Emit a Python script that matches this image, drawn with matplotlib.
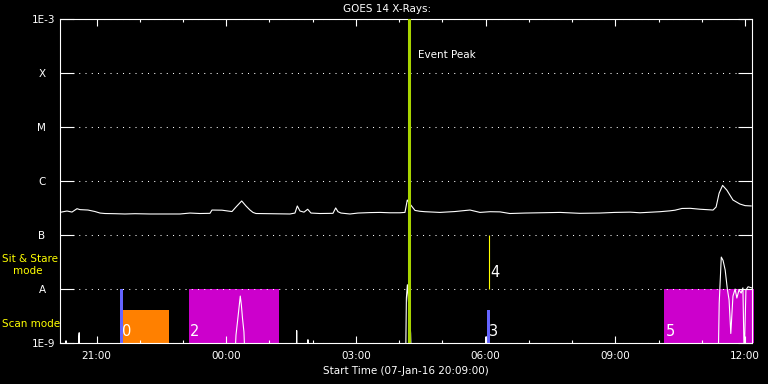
import matplotlib
matplotlib.use('Agg')
import matplotlib.pyplot as plt
import matplotlib.transforms as mtransforms

# start of the plot: 07-Jan-16 20:09:00, time axis in hours since start
start_hour = 20 + 9 / 60
span_hours = 16.0

# GOES long channel (1-8 A), W/m^2
long_t = [0.006, 0.168, 0.283, 0.399, 0.468, 0.653, 0.815, 0.931, 1.046, 1.278,
          1.509, 1.74, 2.087, 2.434, 2.781, 3.012, 3.243, 3.474, 3.521, 3.752,
          3.891, 3.983, 4.076, 4.208, 4.307, 4.4, 4.469, 4.538, 4.862, 5.325,
          5.44, 5.494, 5.556, 5.649, 5.734, 5.811, 6.019, 6.319, 6.382, 6.435,
          6.504, 6.712, 6.897, 7.175, 7.406, 7.637, 7.868, 7.984, 8.038, 8.1,
          8.216, 8.331, 8.447, 8.794, 9.141, 9.257, 9.488, 9.719, 9.95, 10.182,
          10.41, 10.76, 11.11, 11.57, 12.03, 12.49, 12.84, 13.19, 13.42, 13.88,
          14.11, 14.23, 14.39, 14.58, 14.81, 15.11, 15.18, 15.25, 15.33, 15.43,
          15.57, 15.73, 15.85, 15.99]
long_f = [2.63e-7, 2.78e-7, 2.66e-7, 3.07e-7, 2.95e-7, 2.9e-7, 2.72e-7, 2.55e-7, 2.5e-7, 2.48e-7,
          2.45e-7, 2.48e-7, 2.45e-7, 2.45e-7, 2.45e-7, 2.55e-7, 2.5e-7, 2.52e-7, 2.9e-7, 2.88e-7,
          2.78e-7, 2.72e-7, 3.3e-7, 4.27e-7, 3.45e-7, 2.9e-7, 2.62e-7, 2.5e-7, 2.48e-7, 2.45e-7,
          2.55e-7, 3.45e-7, 2.78e-7, 2.65e-7, 3.0e-7, 2.55e-7, 2.5e-7, 2.52e-7, 3.17e-7, 2.7e-7,
          2.55e-7, 2.45e-7, 2.55e-7, 2.6e-7, 2.62e-7, 2.58e-7, 2.58e-7, 2.62e-7, 4.45e-7, 3.75e-7,
          2.85e-7, 2.75e-7, 2.7e-7, 2.62e-7, 2.72e-7, 2.78e-7, 2.9e-7, 2.62e-7, 2.7e-7, 2.68e-7,
          2.5e-7, 2.55e-7, 2.58e-7, 2.62e-7, 2.52e-7, 2.55e-7, 2.62e-7, 2.65e-7, 2.58e-7, 2.7e-7,
          2.8e-7, 2.88e-7, 3.1e-7, 3.12e-7, 3.0e-7, 2.9e-7, 3.3e-7, 5.94e-7, 8.3e-7, 6.75e-7,
          4.45e-7, 3.75e-7, 3.5e-7, 3.45e-7]

# GOES short channel (0.5-4 A), mostly below the plot floor
short_t = [0.0, 0.14, 0.145, 0.15, 0.43, 0.44, 0.45, 0.46,
           4.05, 4.076, 4.12, 4.175, 4.2, 4.226, 4.26, 4.285,
           5.47, 5.48, 5.49, 5.73, 5.74, 5.75,
           8.0, 8.017, 8.04, 8.06, 8.09, 8.115, 8.13,
           9.85, 9.857, 9.865,
           15.23, 15.252, 15.3, 15.34, 15.39, 15.44, 15.48, 15.52, 15.57, 15.62,
           15.66, 15.71, 15.76, 15.8, 15.83, 15.87, 15.92, 16.0]
short_f = [5e-10, 5e-10, 1.1e-9, 5e-10, 5e-10, 1.3e-9, 1.55e-9, 5e-10,
           5e-10, 1.4e-9, 2.9e-9, 7.4e-9, 5.1e-9, 2.9e-9, 1.6e-9, 5e-10,
           5e-10, 1.7e-9, 5e-10, 5e-10, 1.15e-9, 5e-10,
           5e-10, 6.8e-9, 1.2e-8, 6.8e-9, 3e-9, 1.5e-9, 5e-10,
           5e-10, 1.3e-9, 5e-10,
           5e-10, 5.5e-9, 3.9e-8, 3.4e-8, 2.25e-8, 1.0e-8, 6.3e-9, 1.5e-9, 7.4e-9, 1.0e-8,
           6.8e-9, 9.6e-9, 8.4e-9, 1.05e-8, 5e-10, 9.6e-9, 1.1e-8, 1.05e-8]

# observation blocks: start, end (hours since start), top flux, colour
block_start = [1.40, 1.47, 2.99, 9.88, 13.97]
block_end = [1.47, 2.53, 5.06, 9.95, 16.05]
block_top = [1e-8, 4.1e-9, 1e-8, 4.1e-9, 1e-8]
block_color = ['#6464ff', '#ff8000', '#cc00cc', '#6464ff', '#cc00cc']

# raster numbers
num_labels = ['0', '2', '3', '4', '5']
num_t = [1.44, 3.01, 9.93, 9.95, 14.02]
num_f = [1.6e-9, 1.6e-9, 1.6e-9, 2.0e-8, 1.6e-9]

# sit & stare marker
stare_t = 9.935
stare_range = [1e-8, 1e-7]

event_peak_t = 8.08

flux_ticks = [1e-9, 1e-8, 1e-7, 1e-6, 1e-5, 1e-4, 1e-3]
flux_labels = ['1E-9', 'A', 'B', 'C', 'M', 'X', '1E-3']
clock_labels = ['21:00', '00:00', '03:00', '06:00', '09:00', '12:00']

fig = plt.figure(figsize=(7.68, 3.84), dpi=100, facecolor='black')
ax = fig.add_axes([59.75 / 768, 41 / 384, 691.8 / 768, 324 / 384], facecolor='black')

for t0, t1, top, c in zip(block_start, block_end, block_top, block_color):
    ax.fill_between([t0, t1], 1e-9, top, color=c, lw=0, zorder=1,
                    clip_on=(t1 <= span_hours))

ax.plot(long_t, long_f, color='white', lw=0.8, zorder=3)
ax.plot(short_t, short_f, color='white', lw=0.8, zorder=3)

ax.axvline(event_peak_t, color='#a8d400', lw=2.2, zorder=4)
ax.vlines(stare_t, stare_range[0], stare_range[1], color='#ffff00', lw=0.8, zorder=4)
ax.text(event_peak_t + 0.2, 2.2e-4, 'Event Peak', color='white', fontsize=7.5,
        va='center', ha='left')

for lab, t, f in zip(num_labels, num_t, num_f):
    ax.text(t, f, lab, color='white', fontsize=10.5, va='center', ha='left', zorder=5)

ax.set_yscale('log')
ax.set_ylim(1e-9, 1e-3)
ax.set_xlim(0, span_hours)

ax.set_yticks(flux_ticks)
ax.set_yticklabels(flux_labels)
ax.yaxis.set_minor_locator(matplotlib.ticker.NullLocator())
ax.tick_params(axis='y', which='major', direction='in', length=10, width=0.8,
               colors='white', labelsize=7.5, left=True, right=True, pad=3)
ax.yaxis.grid(True, color='white', linestyle=(0, (1, 5)), lw=0.75)

# letter labels sit further left than the 1E-x labels
shift = mtransforms.ScaledTranslation(-10 / 100, 0, fig.dpi_scale_trans)
for lbl in ax.get_yticklabels():
    if lbl.get_text() in ('A', 'B', 'C', 'M', 'X'):
        lbl.set_transform(lbl.get_transform() + shift)

first_tick = (21 - start_hour) % 24
major_x = [first_tick + 3 * i for i in range(len(clock_labels))]
minor_x = [first_tick + i for i in range(16)]
ax.set_xticks(major_x)
ax.set_xticklabels(clock_labels)
ax.set_xticks(minor_x, minor=True)
ax.tick_params(axis='x', which='major', direction='in', length=5, width=0.8,
               colors='white', labelsize=7.5, top=True, bottom=True, pad=6)
ax.tick_params(axis='x', which='minor', direction='in', length=2.5, width=0.8,
               colors='white', top=True, bottom=True)

for s in ax.spines.values():
    s.set_color('white')
    s.set_linewidth(0.8)

ax.set_xlabel('Start Time (07-Jan-16 20:09:00)', color='white', fontsize=7.5, labelpad=3)
fig.text(387 / 768, 1 - 9 / 384, 'GOES 14 X-Rays:', color='white', fontsize=7.5,
         ha='center', va='center')

fig.text(2 / 768, 1 - 259 / 384, 'Sit & Stare', color='#ffff00', fontsize=7.5, va='center')
fig.text(13 / 768, 1 - 271 / 384, 'mode', color='#ffff00', fontsize=7.5, va='center')
fig.text(2 / 768, 1 - 324 / 384, 'Scan mode', color='#ffff00', fontsize=7.5, va='center')

fig.savefig('out.png', dpi=100, facecolor='black')
